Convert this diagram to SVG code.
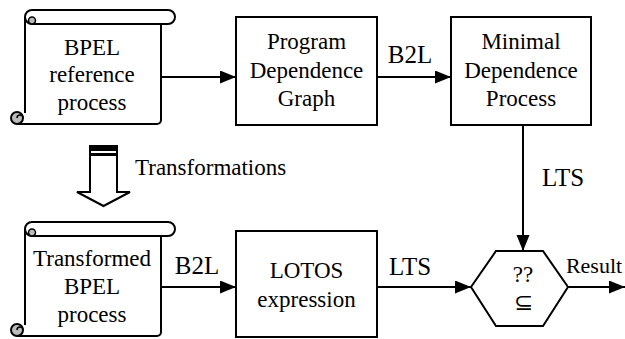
<svg xmlns="http://www.w3.org/2000/svg" width="625" height="339" viewBox="0 0 625 339" font-family="Liberation Serif, Times New Roman, serif">
<style>
  .ln { stroke: #000; stroke-width: 2; fill: none; }
  .bx { stroke: #000; stroke-width: 2; fill: #fff; }
  text { font-family: 'Liberation Serif', 'Times New Roman', serif; }
  .t { font-size: 23px; fill: #000; text-anchor: middle; }
  .lb { font-size: 25px; fill: #000; text-anchor: middle; }
</style>
<defs>
  <marker id="ah" markerUnits="userSpaceOnUse" markerWidth="17" markerHeight="14" refX="16" refY="6.5" orient="auto">
    <path d="M0,0 L16,6.5 L0,13 Z" fill="#000"/>
  </marker>
  <g id="scroll">
    <path d="M25,17 H161 V120 A4,4 0 0 1 157,124 H17 V112 H25 Z" fill="#fff"/>
    <path class="ln" d="M25,17 V113 M17,124 H157 A4,4 0 0 0 161,120 V24"/>
    <path class="bx" d="M32,10 H168 A7,7 0 0 1 168,24 H32 A7,7 0 0 1 32,10 Z"/>
    <path d="M32,24 A3.5,3.5 0 0 1 32,17 A3.5,3.5 0 0 1 32,24 Z" fill="#bbb" stroke="#000" stroke-width="1.5"/>
    <circle cx="17" cy="118" r="6" fill="#bbb" stroke="#000" stroke-width="2"/>
    <path d="M17,118 A3,3 0 0 1 23,118" fill="none" stroke="#000" stroke-width="1.5"/>
  </g>
</defs>

<g id="connectors">
  <line class="ln" x1="161" y1="77" x2="236" y2="77" marker-end="url(#ah)"/>
  <line class="ln" x1="377" y1="77" x2="451" y2="77" marker-end="url(#ah)"/>
  <text class="lb" x="410" y="63" font-family="Liberation Serif">B2L</text>
  <line class="ln" x1="523" y1="125" x2="523" y2="251" marker-end="url(#ah)"/>
  <text class="lb" x="563" y="186" font-family="Liberation Serif">LTS</text>
  <line class="ln" x1="161" y1="287" x2="236" y2="287" marker-end="url(#ah)"/>
  <text class="lb" x="197" y="274" font-family="Liberation Serif">B2L</text>
  <line class="ln" x1="377" y1="287" x2="471" y2="287" marker-end="url(#ah)"/>
  <text class="lb" x="410" y="275" font-family="Liberation Serif">LTS</text>
  <line class="ln" x1="568" y1="287" x2="625" y2="287" marker-end="url(#ah)"/>
  <text class="t" x="594" y="273" style="font-size:22px" font-family="Liberation Serif">Result</text>
</g>

<g id="transform-arrow">
  <path class="bx" d="M90,146 H117 V192 H130 L103.5,206 L77,192 H90 Z"/>
  <rect x="90" y="146" width="27" height="5" fill="#000"/>
  <rect x="90" y="153" width="27" height="3" fill="#000"/>
  <text class="t" x="135" y="175" style="text-anchor:start" font-family="Liberation Serif">Transformations</text>
</g>

<g id="bpel-ref" font-family="Liberation Serif">
  <use href="#scroll"/>
  <text class="t" x="92" y="55">BPEL</text>
  <text class="t" x="92" y="82">reference</text>
  <text class="t" x="92" y="110">process</text>
</g>

<g id="pdg" font-family="Liberation Serif">
  <rect class="bx" x="236" y="17" width="141" height="108"/>
  <text class="t" x="306.5" y="49">Program</text>
  <text class="t" x="306.5" y="78">Dependence</text>
  <text class="t" x="306.5" y="106">Graph</text>
</g>

<g id="mdp" font-family="Liberation Serif">
  <rect class="bx" x="451" y="17" width="140" height="108"/>
  <text class="t" x="521" y="49">Minimal</text>
  <text class="t" x="521" y="78">Dependence</text>
  <text class="t" x="521" y="106">Process</text>
</g>

<g id="bpel-trans" font-family="Liberation Serif">
  <use href="#scroll" transform="translate(0,212)"/>
  <text class="t" x="92" y="266">Transformed</text>
  <text class="t" x="92" y="294">BPEL</text>
  <text class="t" x="92" y="322">process</text>
</g>

<g id="lotos" font-family="Liberation Serif">
  <rect class="bx" x="236" y="231" width="141" height="106"/>
  <text class="t" x="306.5" y="278">LOTOS</text>
  <text class="t" x="306.5" y="307">expression</text>
</g>

<g id="check" font-family="Liberation Serif">
  <polygon class="bx" points="471,287 496,251 543,251 568,287 543,326 496,326"/>
  <text class="t" x="523" y="282">??</text>
  <text class="t" x="523" y="310">⊆</text>
</g>
</svg>
